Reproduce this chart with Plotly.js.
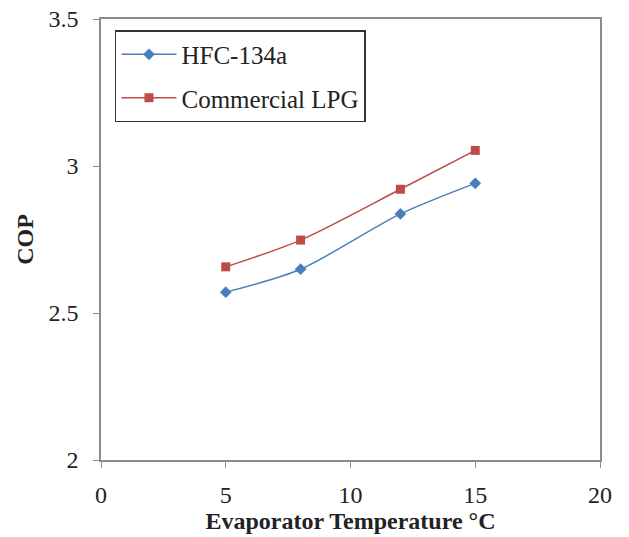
<!DOCTYPE html>
<html>
<head>
<meta charset="utf-8">
<script src="https://cdn.plot.ly/plotly-3.0.1.min.js"></script>
<style>html,body{margin:0;padding:0;background:#fff;}#chart{width:629px;height:537px;}</style>
</head>
<body>
<div id="chart"></div>
<script>
const temps = [5, 8, 12, 15];
const hfc134a = [2.571, 2.649, 2.837, 2.941];
const lpg = [2.657, 2.748, 2.921, 3.053];
const seriesNames = ["HFC-134a", "Commercial LPG"];
const xTicks = [0, 5, 10, 15, 20];
const yTicks = [2, 2.5, 3, 3.5];
const yTickText = ["2", "2.5", "3", "3.5"];

const serif = "Liberation Serif, Times New Roman, serif";
const data = [
  {x: temps, y: hfc134a, name: seriesNames[0], type: "scatter", mode: "lines+markers",
   legendgroup: "a",
   line: {color: "#4a7ebb", width: 1.5, shape: "spline", smoothing: 0.8},
   marker: {symbol: "diamond", size: 9, color: "#4a7ebb"}},
  {x: temps, y: lpg, name: seriesNames[1], type: "scatter", mode: "lines+markers",
   legendgroup: "b",
   line: {color: "#be4b48", width: 1.5, shape: "spline", smoothing: 0.8},
   marker: {symbol: "square", size: 9, color: "#be4b48"}}
];
const axisCommon = {
  showgrid: false, zeroline: false, showline: true, mirror: true,
  linecolor: "#8c8c8c", linewidth: 1.5, ticks: "outside", ticklen: 6,
  tickcolor: "#8c8c8c", tickwidth: 1,
  tickfont: {family: serif, size: 24, color: "#222"}
};
const layout = {
  width: 629, height: 537,
  margin: {l: 101, r: 29, t: 19, b: 77},
  paper_bgcolor: "#fff", plot_bgcolor: "#fff",
  showlegend: true,
  legend: {x: 0.028, y: 0.975, xanchor: "left", yanchor: "top",
    bordercolor: "#333", borderwidth: 1.5, bgcolor: "#fff",
    font: {family: serif, size: 25, color: "#222"},
    itemwidth: 55,
    tracegroupgap: 8, traceorder: "grouped"},
  xaxis: Object.assign({}, axisCommon, {range: [0, 20], tickvals: xTicks,
    ticklabelstandoff: 6,
    title: {text: "Evaporator Temperature °C", standoff: 4,
      font: {family: serif, size: 24, color: "#222", weight: "bold"}}}),
  yaxis: Object.assign({}, axisCommon, {range: [2, 3.5], tickvals: yTicks, ticktext: yTickText,
    ticklabelstandoff: 10,
    title: {text: "COP", standoff: 8,
      font: {family: serif, size: 24, color: "#222", weight: "bold"}}})
};
Plotly.newPlot("chart", data, layout, {displayModeBar: false});
</script>
</body>
</html>
